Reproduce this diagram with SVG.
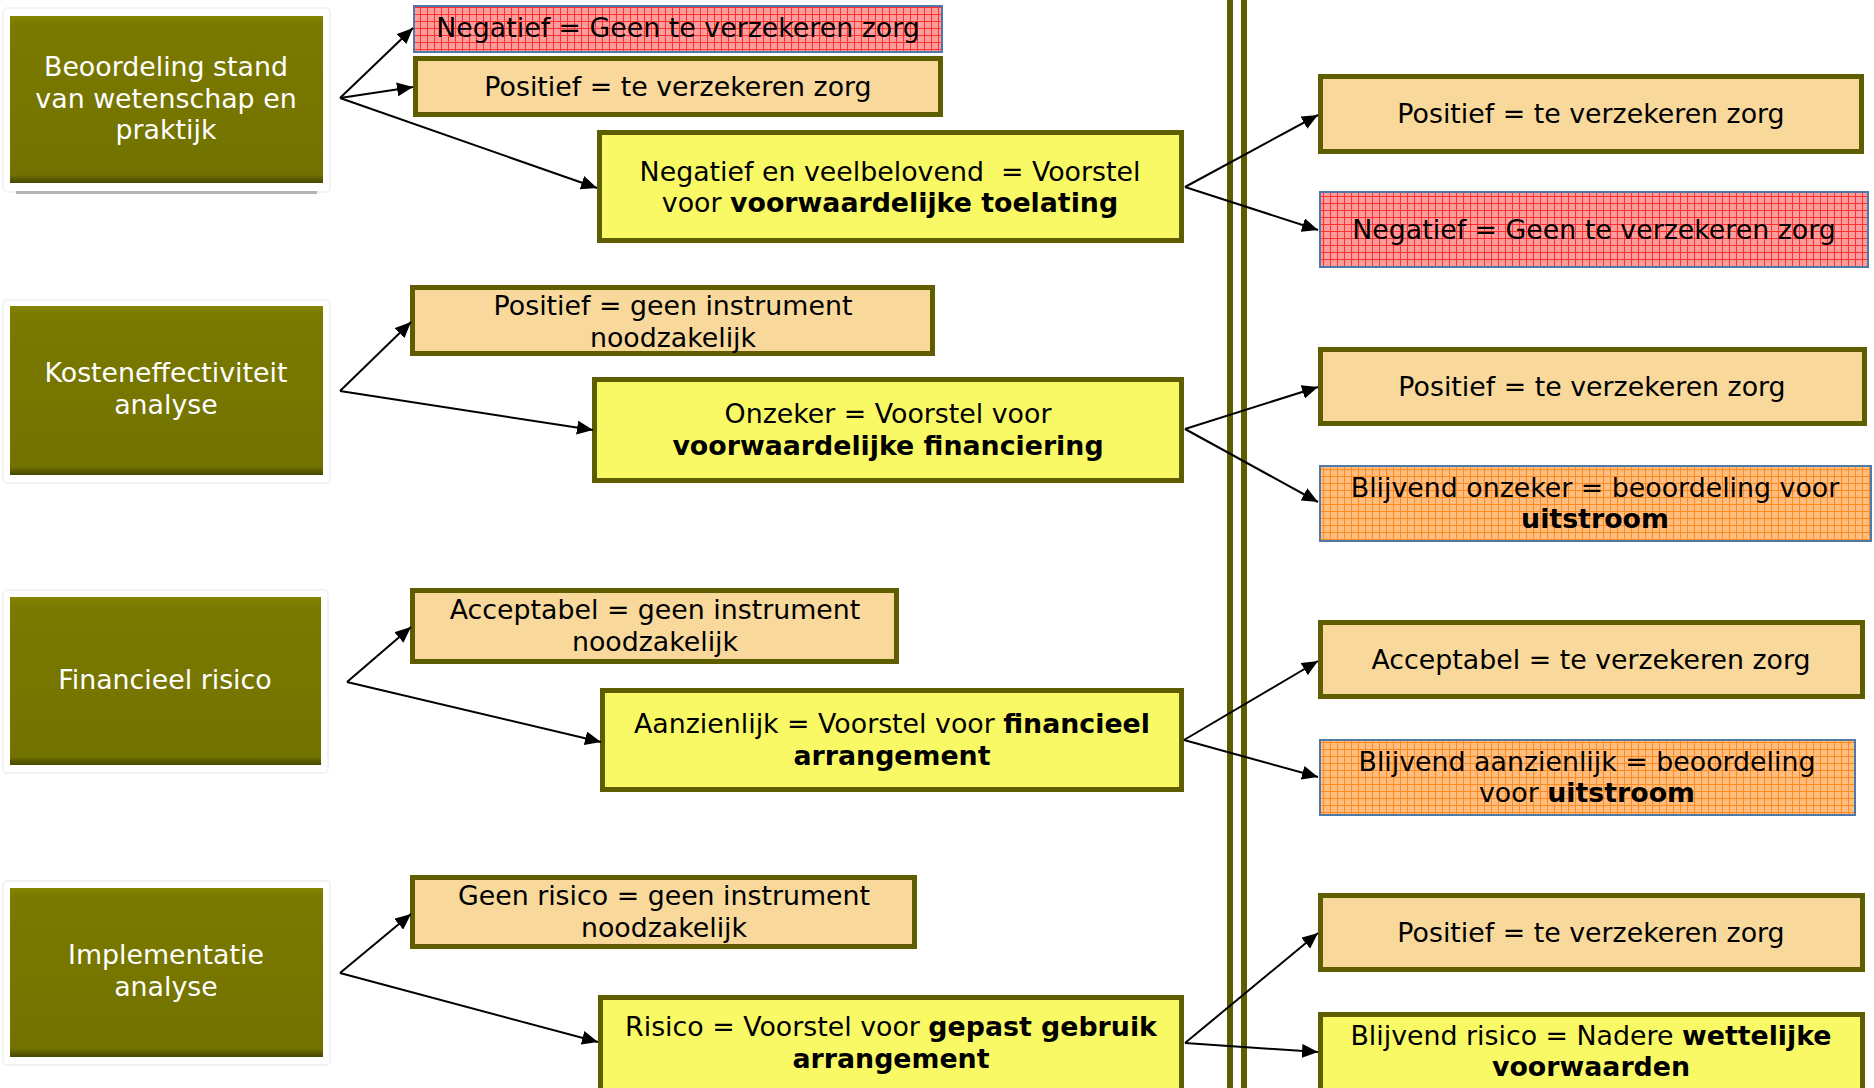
<svg xmlns="http://www.w3.org/2000/svg" width="1874" height="1088" viewBox="0 0 1874 1088">
<defs>
<style>
.t{font-family:"DejaVu Sans","Verdana",sans-serif;font-size:26.8px;fill:#000;text-anchor:middle;white-space:pre}
.w{fill:#ffffff}
.b{font-weight:bold}
.tan{fill:#F8D99B;stroke:#5E5E00;stroke-width:5}
.yel{fill:#F9F966;stroke:#5E5E00;stroke-width:5}
.red{fill:url(#gridR);stroke:#4F79A8;stroke-width:2}
.org{fill:url(#gridO);stroke:#4F79A8;stroke-width:2}
.lb{fill:url(#olive)}
.frame{fill:#ffffff;stroke:#f0f0f0;stroke-width:1.5}
.bar{fill:#5E5E00}
.cn line{stroke:#000;stroke-width:2;marker-end:url(#ah)}
</style>
<pattern id="gridR" width="7" height="7" patternUnits="userSpaceOnUse">
<rect width="7" height="7" fill="#FF9C9C"/>
<path d="M0 0.5H7M0.5 0V7" stroke="#FF3030" stroke-width="1"/>
</pattern>
<pattern id="gridO" width="7" height="7" patternUnits="userSpaceOnUse">
<rect width="7" height="7" fill="#FFBE80"/>
<path d="M0 0.5H7M0.5 0V7" stroke="#FF8A1E" stroke-width="1"/>
</pattern>
<linearGradient id="olive" x1="0" y1="0" x2="0" y2="1">
<stop offset="0" stop-color="#858500"/>
<stop offset="0.05" stop-color="#7A7A00"/>
<stop offset="0.95" stop-color="#727200"/>
<stop offset="0.975" stop-color="#5A5A00"/>
<stop offset="1" stop-color="#474700"/>
</linearGradient>
<marker id="ah" markerUnits="userSpaceOnUse" markerWidth="17" markerHeight="14" refX="16" refY="7" orient="auto">
<path d="M0 0L16 7L0 14z" fill="#000"/>
</marker>
</defs>
<rect width="1874" height="1088" fill="#ffffff"/>

<g id="bars">
<rect class="bar" x="1227" y="0" width="6" height="1088"/>
<rect class="bar" x="1241" y="0" width="6" height="1088"/>
</g>

<g id="left1">
<rect class="frame" x="3" y="8" width="327" height="184" rx="4"/>
<rect class="lb" x="10" y="16" width="313" height="167"/>
<rect x="16" y="191" width="301" height="3" fill="#b4b4b4"/>
<text class="t w" x="166" y="76">Beoordeling stand</text>
<text class="t w" x="166" y="108">van wetenschap en</text>
<text class="t w" x="166" y="139">praktijk</text>
</g>
<g id="left2">
<rect class="frame" x="3" y="300" width="327" height="183" rx="4"/>
<rect class="lb" x="10" y="306" width="313" height="169"/>
<text class="t w" x="166" y="382">Kosteneffectiviteit</text>
<text class="t w" x="166" y="414">analyse</text>
</g>
<g id="left3">
<rect class="frame" x="3" y="590" width="325" height="183" rx="4"/>
<rect class="lb" x="10" y="597" width="311" height="168"/>
<text class="t w" x="165" y="689">Financieel risico</text>
</g>
<g id="left4">
<rect class="frame" x="3" y="881" width="327" height="184" rx="4"/>
<rect class="lb" x="10" y="888" width="313" height="169"/>
<text class="t w" x="166" y="964">Implementatie</text>
<text class="t w" x="166" y="996">analyse</text>
</g>

<g id="mid-r1-neg">
<rect class="red" x="414" y="6" width="528" height="46"/>
<text class="t" x="678" y="37">Negatief = Geen te verzekeren zorg</text>
</g>
<g id="mid-r1-pos">
<rect class="tan" x="415.5" y="58.5" width="525" height="56"/>
<text class="t" x="678" y="96">Positief = te verzekeren zorg</text>
</g>
<g id="mid-r1-yel">
<rect class="yel" x="599.5" y="132.5" width="582" height="108"/>
<text class="t" x="890" y="181">Negatief en veelbelovend  = Voorstel</text>
<text class="t" x="890" y="212">voor <tspan class="b">voorwaardelijke toelating</tspan></text>
</g>

<g id="mid-r2-pos">
<rect class="tan" x="412.5" y="287.5" width="520" height="66"/>
<text class="t" x="673" y="315">Positief = geen instrument</text>
<text class="t" x="673" y="347">noodzakelijk</text>
</g>
<g id="mid-r2-yel">
<rect class="yel" x="594.5" y="379.5" width="587" height="101"/>
<text class="t" x="888" y="423">Onzeker = Voorstel voor</text>
<text class="t b" x="888" y="455">voorwaardelijke financiering</text>
</g>

<g id="mid-r3-pos">
<rect class="tan" x="412.5" y="590.5" width="484" height="71"/>
<text class="t" x="655" y="619">Acceptabel = geen instrument</text>
<text class="t" x="655" y="651">noodzakelijk</text>
</g>
<g id="mid-r3-yel">
<rect class="yel" x="602.5" y="690.5" width="579" height="99"/>
<text class="t" x="892" y="733">Aanzienlijk = Voorstel voor <tspan class="b">financieel</tspan></text>
<text class="t b" x="892" y="765">arrangement</text>
</g>

<g id="mid-r4-pos">
<rect class="tan" x="412.5" y="877.5" width="502" height="69"/>
<text class="t" x="664" y="905">Geen risico = geen instrument</text>
<text class="t" x="664" y="937">noodzakelijk</text>
</g>
<g id="mid-r4-yel">
<rect class="yel" x="600.5" y="997.5" width="581" height="110"/>
<text class="t" x="891" y="1036">Risico = Voorstel voor <tspan class="b">gepast gebruik</tspan></text>
<text class="t b" x="891" y="1068">arrangement</text>
</g>

<g id="right-r1-pos">
<rect class="tan" x="1320.5" y="76.5" width="541" height="75"/>
<text class="t" x="1591" y="123">Positief = te verzekeren zorg</text>
</g>
<g id="right-r1-neg">
<rect class="red" x="1320" y="192" width="548" height="75"/>
<text class="t" x="1594" y="239">Negatief = Geen te verzekeren zorg</text>
</g>
<g id="right-r2-pos">
<rect class="tan" x="1320.5" y="349.5" width="544" height="74"/>
<text class="t" x="1592" y="396">Positief = te verzekeren zorg</text>
</g>
<g id="right-r2-org">
<rect class="org" x="1320" y="466" width="551" height="75"/>
<text class="t" x="1595" y="497">Blijvend onzeker = beoordeling voor</text>
<text class="t b" x="1595" y="528">uitstroom</text>
</g>
<g id="right-r3-pos">
<rect class="tan" x="1320.5" y="622.5" width="542" height="74"/>
<text class="t" x="1591" y="669">Acceptabel = te verzekeren zorg</text>
</g>
<g id="right-r3-org">
<rect class="org" x="1320" y="740" width="535" height="75"/>
<text class="t" x="1587" y="771">Blijvend aanzienlijk = beoordeling</text>
<text class="t" x="1587" y="802">voor <tspan class="b">uitstroom</tspan></text>
</g>
<g id="right-r4-pos">
<rect class="tan" x="1320.5" y="895.5" width="542" height="74"/>
<text class="t" x="1591" y="942">Positief = te verzekeren zorg</text>
</g>
<g id="right-r4-yel">
<rect class="yel" x="1320.5" y="1014.5" width="542" height="100"/>
<text class="t" x="1591" y="1045">Blijvend risico = Nadere <tspan class="b">wettelijke</tspan></text>
<text class="t b" x="1591" y="1076">voorwaarden</text>
</g>

<g id="connectors" class="cn">
<line x1="340" y1="98" x2="413" y2="28"/>
<line x1="340" y1="98" x2="413" y2="87"/>
<line x1="340" y1="98" x2="597" y2="188"/>
<line x1="1185" y1="187" x2="1318" y2="115"/>
<line x1="1185" y1="187" x2="1318" y2="230"/>
<line x1="340" y1="391" x2="411" y2="322"/>
<line x1="340" y1="391" x2="593" y2="430"/>
<line x1="1185" y1="429" x2="1318" y2="387"/>
<line x1="1185" y1="429" x2="1318" y2="502"/>
<line x1="347" y1="682" x2="411" y2="627"/>
<line x1="347" y1="682" x2="601" y2="742"/>
<line x1="1184" y1="740" x2="1318" y2="661"/>
<line x1="1184" y1="740" x2="1318" y2="777"/>
<line x1="340" y1="973" x2="411" y2="914"/>
<line x1="340" y1="973" x2="598" y2="1042"/>
<line x1="1185" y1="1043" x2="1318" y2="933"/>
<line x1="1185" y1="1043" x2="1318" y2="1052"/>
</g>
</svg>
